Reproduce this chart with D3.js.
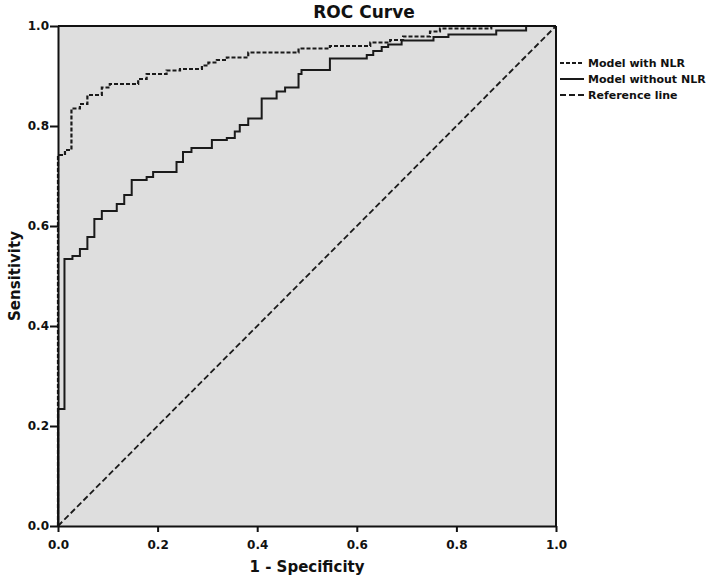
<!DOCTYPE html>
<html><head><meta charset="utf-8">
<script src="https://cdn.jsdelivr.net/npm/d3@7"></script>
<style>
html,body{margin:0;padding:0;background:#fff;}
text{font-family:"DejaVu Sans",sans-serif;font-weight:bold;fill:#111;}
</style></head>
<body>
<svg id="chart" width="709" height="582"></svg>
<script>
// Data (1 - Specificity, Sensitivity) — left ends of each horizontal segment of the ROC staircase
const fprWithNLR = [0, 0, 0.014, 0.027, 0.044, 0.059, 0.088, 0.104, 0.161, 0.178, 0.218, 0.245, 0.289, 0.302, 0.319, 0.339, 0.382, 0.483, 0.546, 0.627, 0.667, 0.693, 0.747, 0.767, 0.87, 1.0];
const tprWithNLR = [0, 0.742, 0.752, 0.835, 0.844, 0.862, 0.877, 0.884, 0.894, 0.904, 0.911, 0.914, 0.921, 0.927, 0.932, 0.937, 0.947, 0.955, 0.960, 0.967, 0.972, 0.979, 0.989, 0.995, 1.0, 1.0];
const fprWithoutNLR = [0, 0, 0.013, 0.029, 0.044, 0.059, 0.073, 0.088, 0.118, 0.133, 0.148, 0.178, 0.191, 0.238, 0.251, 0.268, 0.309, 0.339, 0.355, 0.365, 0.382, 0.409, 0.439, 0.456, 0.483, 0.489, 0.546, 0.62, 0.633, 0.65, 0.663, 0.69, 0.754, 0.784, 0.88, 0.94, 1.0];
const tprWithoutNLR = [0, 0.234, 0.534, 0.540, 0.554, 0.578, 0.614, 0.630, 0.644, 0.662, 0.692, 0.698, 0.708, 0.728, 0.748, 0.756, 0.772, 0.776, 0.789, 0.802, 0.815, 0.855, 0.869, 0.877, 0.904, 0.912, 0.935, 0.942, 0.95, 0.958, 0.963, 0.971, 0.978, 0.983, 0.991, 1.0, 1.0];
const refX = [0, 1];
const refY = [0, 1];
const tickValues = [0, 0.2, 0.4, 0.6, 0.8, 1.0];
const seriesNames = ["Model with NLR", "Model without NLR", "Reference line"];

const svg = d3.select("#chart");
const L = 58, R = 556, T = 26, B = 526;
const x = d3.scaleLinear().domain([0, 1]).range([L, R]);
const y = d3.scaleLinear().domain([0, 1]).range([B, T]);

// plot background
svg.append("rect").attr("x", L).attr("y", T).attr("width", R - L).attr("height", B - T).attr("fill", "#dedede");

const styles = [
  {dash: "4,2", width: 2.2, curve: d3.curveStepAfter},
  {dash: null, width: 2, curve: d3.curveStepAfter},
  {dash: "6,3", width: 1.8, curve: d3.curveLinear}
];
const series = [
  d3.zip(fprWithNLR, tprWithNLR),
  d3.zip(fprWithoutNLR, tprWithoutNLR),
  d3.zip(refX, refY)
];

// reference line first
[2, 1, 0].forEach(i => {
  const line = d3.line().x(d => x(d[0])).y(d => y(d[1])).curve(styles[i].curve);
  svg.append("path").attr("d", line(series[i]))
    .attr("fill", "none").attr("stroke", "#1a1a1a")
    .attr("stroke-width", styles[i].width)
    .attr("stroke-dasharray", styles[i].dash);
});

// frame top and right
svg.append("line").attr("x1", L).attr("x2", R).attr("y1", T).attr("y2", T).attr("stroke", "#111").attr("stroke-width", 2);
svg.append("line").attr("x1", R).attr("x2", R).attr("y1", T).attr("y2", B).attr("stroke", "#111").attr("stroke-width", 2);

// axes
const fmt = d3.format(".1f");
const xAxis = svg.append("g").attr("transform", `translate(0,${B})`)
  .call(d3.axisBottom(x).tickValues(tickValues).tickFormat(fmt).tickSize(6).tickSizeOuter(0));
const yAxis = svg.append("g").attr("transform", `translate(${L},0)`)
  .call(d3.axisLeft(y).tickValues(tickValues).tickFormat(fmt).tickSize(8).tickSizeOuter(0));
[xAxis, yAxis].forEach(g => {
  g.select(".domain").attr("stroke", "#111").attr("stroke-width", 2);
  g.selectAll(".tick line").attr("stroke", "#111").attr("stroke-width", 2);
  g.selectAll(".tick text").attr("font-family", "DejaVu Sans").attr("font-weight", "bold").attr("font-size", 12).attr("fill", "#111");
});
xAxis.selectAll(".tick text").attr("dy", "1.2em");
yAxis.selectAll(".tick text").attr("x", -9);

// titles
svg.append("text").attr("x", 364).attr("y", 18).attr("text-anchor", "middle").attr("font-size", 17).text("ROC Curve");
svg.append("text").attr("x", (L + R) / 2).attr("y", 572).attr("text-anchor", "middle").attr("font-size", 15).text("1 - Specificity");
svg.append("text").attr("transform", `translate(20,${(T + B) / 2}) rotate(-90)`).attr("text-anchor", "middle").attr("font-size", 15).text("Sensitivity");

// legend
const lg = svg.append("g");
seriesNames.forEach((name, i) => {
  const yy = 63 + i * 16;
  lg.append("line").attr("x1", 560).attr("x2", 584).attr("y1", yy).attr("y2", yy)
    .attr("stroke", "#1a1a1a").attr("stroke-width", 2).attr("stroke-dasharray", styles[i].dash);
  lg.append("text").attr("x", 588).attr("y", yy + 4).attr("font-size", 11).text(name);
});
</script>
</body></html>
